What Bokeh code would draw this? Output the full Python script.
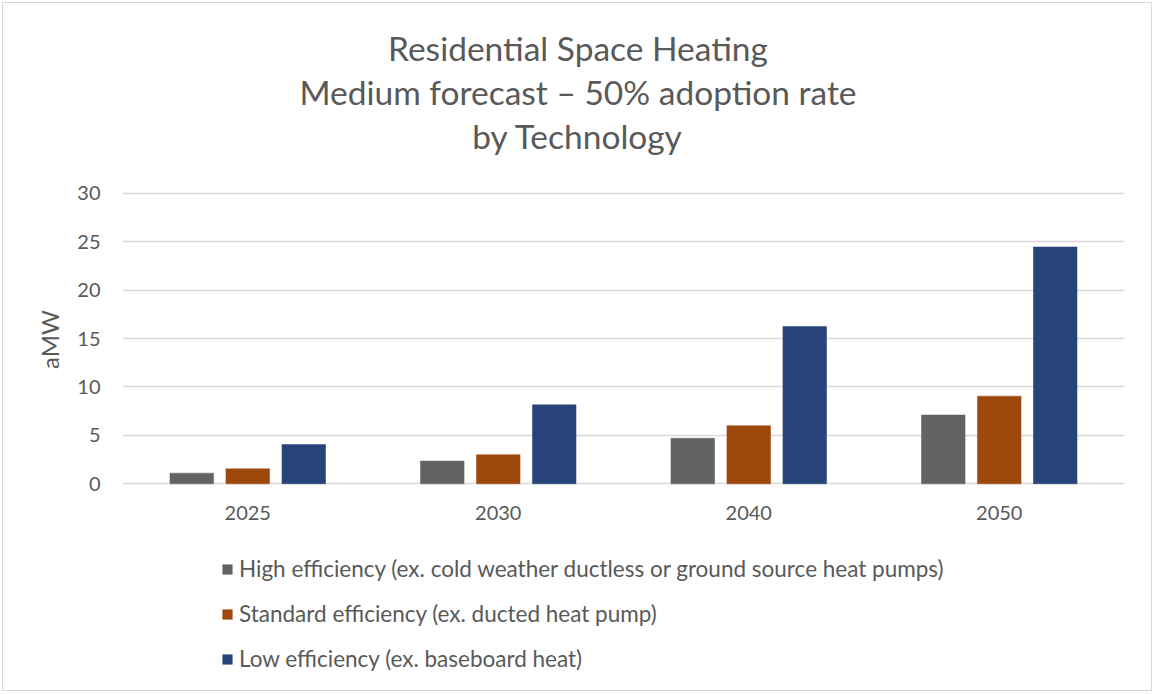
from bokeh.plotting import figure
from bokeh.models import (FactorRange, Legend, LegendItem, Label, FixedTicker,
                          ColumnDataSource, Range1d)
from bokeh.transform import dodge
from bokeh.embed import file_html
from bokeh.resources import INLINE

# ---- data ----
years = ["2025", "2030", "2040", "2050"]
high_eff = [1.1, 2.35, 4.7, 7.1]
standard_eff = [1.55, 3.0, 6.0, 9.05]
low_eff = [4.05, 8.15, 16.25, 24.45]
series_names = [
    "High efficiency (ex. cold weather ductless or ground source heat pumps)",
    "Standard efficiency (ex. ducted heat pump)",
    "Low efficiency (ex. baseboard heat)",
]
series_colors = ["#636363", "#9e480e", "#264478"]
y_ticks = [0, 5, 10, 15, 20, 25, 30]
title_lines = ["Residential Space Heating",
               "Medium forecast \u2013 50% adoption rate",
               "by Technology"]
y_label = "aMW"

FONT = "Lato"
TXT = "#595959"

src = ColumnDataSource(dict(year=years, high=high_eff, std=standard_eff, low=low_eff))

# layout: the frame spans almost the full height so title and legend live inside it
W, H = 1148, 687
FRAME_TOP, FRAME_BOTTOM = 3, 669
PX_PER_UNIT = 290.6 / 30.0
TOP_Y = 189.7           # canvas y of value 30
ZERO_Y = 480.3          # canvas y of value 0
Y1 = 30 + (TOP_Y - FRAME_TOP) / PX_PER_UNIT
Y0 = -(FRAME_BOTTOM - ZERO_Y) / PX_PER_UNIT

p = figure(width=W, height=H, x_range=FactorRange(*years, range_padding=0),
           y_range=Range1d(Y0, Y1), output_backend="svg", toolbar_location=None,
           min_border_left=119, min_border_right=27, min_border_top=FRAME_TOP,
           min_border_bottom=H - FRAME_BOTTOM)
p.styles = {"margin-left": "3px", "margin-top": "3px",
            "outline": "1.5px solid #d9d9d9"}

p.outline_line_color = None
p.background_fill_color = "white"
p.border_fill_color = "white"

offsets = [-0.2235, 0.0, 0.2235]
cols = ["high", "std", "low"]
renderers = []
for off, col, color in zip(offsets, cols, series_colors):
    r = p.vbar(x=dodge("year", off, range=p.x_range), top=col, width=0.174,
               source=src, fill_color=color, line_color=color, line_width=0.5)
    renderers.append(r)

# axes
p.yaxis.ticker = FixedTicker(ticks=y_ticks)
p.yaxis.bounds = (y_ticks[0], y_ticks[-1])
p.xaxis.fixed_location = 0
for ax in (p.xaxis[0], p.yaxis[0]):
    ax.axis_line_color = None
    ax.major_tick_line_color = None
    ax.minor_tick_line_color = None
    ax.major_tick_out = 0
    ax.major_tick_in = 0
    ax.major_label_text_font = FONT
    ax.major_label_text_font_size = "20px"
    ax.major_label_text_color = TXT
p.yaxis.major_label_standoff = 22
p.xaxis.major_label_standoff = 22
p.yaxis.axis_label = y_label
p.yaxis.axis_label_text_font = FONT
p.yaxis.axis_label_text_font_size = "24px"
p.yaxis.axis_label_text_font_style = "normal"
p.yaxis.axis_label_text_color = TXT
p.yaxis.axis_label_standoff = 10

p.xgrid.grid_line_color = None
p.ygrid.grid_line_color = "#d9d9d9"
p.ygrid.grid_line_width = 1.5

# title (screen units relative to the frame's bottom-left)
title_y = [625, 581, 537]
for line, ty in zip(title_lines, title_y):
    p.add_layout(Label(x=455.5, y=ty, x_units="screen", y_units="screen", text=line,
                       text_font=FONT, text_font_size="33.5px", text_color=TXT,
                       text_align="center", text_baseline="alphabetic"))

legend = Legend(items=[LegendItem(label=n, renderers=[r]) for n, r in zip(series_names, renderers)],
                location=(99, 0), orientation="vertical",
                glyph_width=12, glyph_height=12, label_height=27,
                label_standoff=6, spacing=18, padding=0, margin=0,
                label_text_font=FONT, label_text_font_size="22.5px",
                label_text_color=TXT, border_line_color=None,
                background_fill_alpha=0)
p.add_layout(legend, "center")

open("out.html", "w").write(file_html(p, INLINE))
